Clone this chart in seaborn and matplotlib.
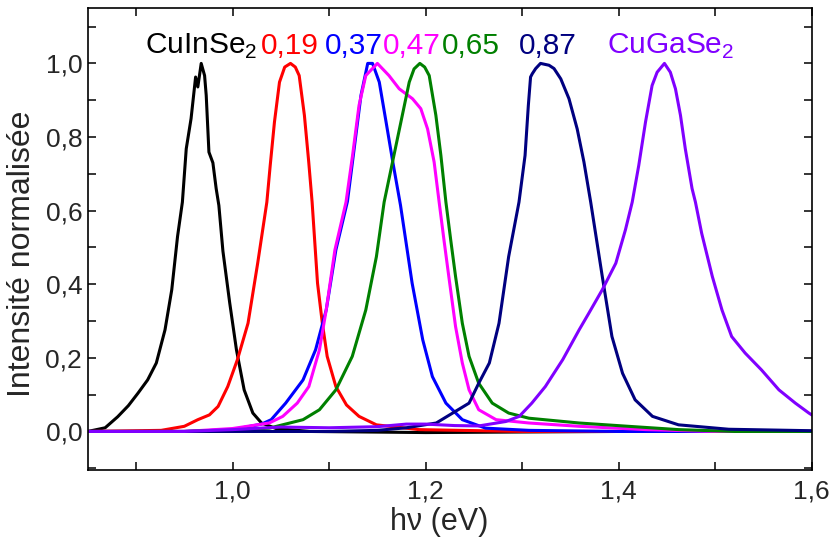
import matplotlib
matplotlib.use("Agg")
import matplotlib.pyplot as plt
from matplotlib.ticker import MultipleLocator, FuncFormatter
import seaborn as sns
import pandas as pd

# photoluminescence spectra
energy_cuinse2 = [0.85, 0.868, 0.881, 0.892, 0.902, 0.912, 0.921, 0.930, 0.937, 0.943, 0.948, 0.952,
                  0.957, 0.9617, 0.964, 0.9675, 0.971, 0.9727, 0.9755, 0.9796, 0.983, 0.9858, 0.990,
                  0.997, 1.004, 1.012, 1.021, 1.030, 1.045, 1.08, 1.2, 1.4, 1.6]
int_cuinse2 = [0.0, 0.01, 0.04, 0.07, 0.104, 0.14, 0.186, 0.276, 0.385, 0.53, 0.623, 0.768,
               0.85, 0.963, 0.936, 1.0, 0.967, 0.913, 0.759, 0.73, 0.66, 0.614, 0.49,
               0.35, 0.222, 0.113, 0.05, 0.023, 0.008, 0.0, -0.003, 0.0, 0.0]

energy_019 = [0.85, 0.926, 0.950, 0.964, 0.976, 0.985, 0.995, 1.005, 1.016, 1.026, 1.0355, 1.039,
              1.0434, 1.0486, 1.054, 1.060, 1.065, 1.069, 1.0744, 1.0789, 1.0824, 1.088, 1.093,
              1.098, 1.107, 1.118, 1.131, 1.149, 1.193, 1.3, 1.6]
int_019 = [0.0, 0.003, 0.014, 0.032, 0.045, 0.068, 0.122, 0.195, 0.294, 0.457, 0.623, 0.723,
           0.841, 0.949, 0.99, 1.0, 0.99, 0.967, 0.859, 0.732, 0.623, 0.403, 0.294,
           0.204, 0.122, 0.072, 0.041, 0.018, 0.005, 0.0, 0.0]

energy_037 = [0.85, 0.95, 1.0, 1.03, 1.040, 1.055, 1.073, 1.086, 1.097, 1.107, 1.119, 1.126,
              1.133, 1.140, 1.145, 1.152, 1.159, 1.166, 1.174, 1.186, 1.197, 1.207, 1.221, 1.238,
              1.262, 1.307, 1.4, 1.6]
int_037 = [0.0, 0.0, 0.005, 0.02, 0.032, 0.077, 0.14, 0.222, 0.33, 0.493, 0.625, 0.769,
           0.913, 1.0, 1.0, 0.949, 0.841, 0.732, 0.614, 0.403, 0.249, 0.149, 0.077, 0.032,
           0.009, 0.003, 0.0, 0.0]

energy_047 = [0.85, 0.95, 1.0, 1.038, 1.052, 1.067, 1.079, 1.090, 1.097, 1.106, 1.1175, 1.1243,
              1.131, 1.138, 1.150, 1.162, 1.1726, 1.1864, 1.195, 1.202, 1.2088, 1.214, 1.219,
              1.224, 1.231, 1.238, 1.245, 1.255, 1.273, 1.307, 1.359, 1.428, 1.5, 1.6]
int_047 = [0.0, 0.0, 0.008, 0.023, 0.041, 0.077, 0.122, 0.222, 0.33, 0.493, 0.623, 0.75,
           0.886, 0.967, 1.0, 0.967, 0.931, 0.904, 0.877, 0.822, 0.732, 0.623, 0.52,
           0.421, 0.285, 0.186, 0.113, 0.059, 0.032, 0.023, 0.014, 0.005, 0.0, 0.0]

energy_065 = [0.85, 0.95, 1.0, 1.038, 1.073, 1.090, 1.107, 1.124, 1.138, 1.149, 1.157, 1.1657,
              1.1744, 1.183, 1.188, 1.194, 1.199, 1.2037, 1.2106, 1.2158, 1.221, 1.226, 1.231,
              1.238, 1.245, 1.255, 1.269, 1.286, 1.307, 1.359, 1.41, 1.462, 1.52, 1.6]
int_065 = [0.0, 0.0, 0.003, 0.009, 0.032, 0.059, 0.113, 0.204, 0.33, 0.475, 0.623, 0.732,
           0.841, 0.949, 0.985, 1.0, 0.99, 0.967, 0.859, 0.75, 0.623, 0.52, 0.421,
           0.294, 0.204, 0.131, 0.077, 0.05, 0.036, 0.023, 0.014, 0.005, 0.0, 0.0]

energy_087 = [0.85, 1.1, 1.15, 1.18, 1.211, 1.245, 1.255, 1.266, 1.276, 1.286, 1.2967, 1.303,
              1.3064, 1.3087, 1.3105, 1.314, 1.319, 1.3278, 1.333, 1.34, 1.3485, 1.357, 1.364,
              1.371, 1.383, 1.393, 1.404, 1.417, 1.435, 1.462, 1.514, 1.6]
int_087 = [0.0, 0.0, 0.003, 0.01, 0.023, 0.077, 0.131, 0.186, 0.294, 0.475, 0.623, 0.75,
           0.886, 0.963, 0.972, 0.986, 1.0, 0.995, 0.986, 0.958, 0.904, 0.822, 0.732,
           0.623, 0.421, 0.258, 0.158, 0.086, 0.041, 0.018, 0.006, 0.002]

energy_cugase2 = [0.85, 0.95, 1.0, 1.05, 1.1, 1.15, 1.18, 1.2, 1.23, 1.255, 1.283, 1.297, 1.31,
                  1.324, 1.342, 1.359, 1.369, 1.383, 1.397, 1.407, 1.414, 1.4208, 1.4278, 1.4346,
                  1.4398, 1.4474, 1.4535, 1.4588, 1.464, 1.469, 1.476, 1.4795, 1.486, 1.497,
                  1.507, 1.517, 1.531, 1.548, 1.566, 1.583, 1.597, 1.6]
int_cugase2 = [0.0, 0.0, 0.005, 0.012, 0.01, 0.013, 0.02, 0.02, 0.016, 0.015, 0.027, 0.041, 0.077,
               0.122, 0.195, 0.276, 0.321, 0.385, 0.457, 0.548, 0.623, 0.723, 0.841, 0.94,
               0.976, 1.0, 0.976, 0.931, 0.859, 0.768, 0.66, 0.623, 0.538, 0.421,
               0.33, 0.258, 0.213, 0.167, 0.113, 0.077, 0.05, 0.045]

series = [
    ("CuInSe$_2$", energy_cuinse2, int_cuinse2, "#000000"),
    ("0,19", energy_019, int_019, "#ff0000"),
    ("0,37", energy_037, int_037, "#0000ff"),
    ("0,47", energy_047, int_047, "#ff00ff"),
    ("0,65", energy_065, int_065, "#008000"),
    ("0,87", energy_087, int_087, "#000080"),
    ("CuGaSe$_2$", energy_cugase2, int_cugase2, "#8000ff"),
]

# where each label starts (data coords)
label_x = [0.909, 1.0296, 1.0961, 1.1554, 1.2168, 1.2967, 1.3877]

sns.set_style("ticks")
plt.rcParams['font.family'] = ['Liberation Sans', 'DejaVu Sans']
plt.rcParams['mathtext.fontset'] = 'custom'
plt.rcParams['mathtext.rm'] = 'Liberation Sans'

fig = plt.figure(figsize=(8.36, 5.46), dpi=100)
ax = fig.add_axes([0.105, 0.139, 0.866, 0.846])

for (name, xs, ys, col), lx in zip(series, label_x):
    df = pd.DataFrame({"E": xs, "I": ys})
    sns.lineplot(data=df, x="E", y="I", color=col, linewidth=2.2,
                 estimator=None, sort=False, ax=ax)
    ax.text(lx, 1.026, name, color=col, fontsize=21.5, ha="left", va="baseline")

ax.set_xlim(0.85, 1.6)
ax.set_ylim(-0.105, 1.15)

comma = FuncFormatter(lambda v, p: f"{v:.1f}".replace(".", ","))
ax.xaxis.set_major_locator(MultipleLocator(0.2))
ax.xaxis.set_minor_locator(MultipleLocator(0.1))
ax.yaxis.set_major_locator(MultipleLocator(0.2))
ax.yaxis.set_minor_locator(MultipleLocator(0.1))
ax.xaxis.set_major_formatter(comma)
ax.yaxis.set_major_formatter(comma)
ax.tick_params(which="both", direction="in", top=True, right=True,
               length=6, width=1.1, color="black")
ax.tick_params(which="major", labelsize=19)
ax.tick_params(axis="x", which="major", pad=7)
ax.tick_params(axis="y", which="major", pad=4)

for sp in ax.spines.values():
    sp.set_linewidth(1.2)
    sp.set_color("black")

ax.set_xlabel("h\u03bd (eV)", fontsize=22)
ax.xaxis.set_label_coords(0.485, -0.08)
ax.set_ylabel("Intensit\u00e9 normalis\u00e9e", fontsize=23)
ax.yaxis.set_label_coords(-0.07, 0.4675)

fig.savefig("out.png", dpi=100)
